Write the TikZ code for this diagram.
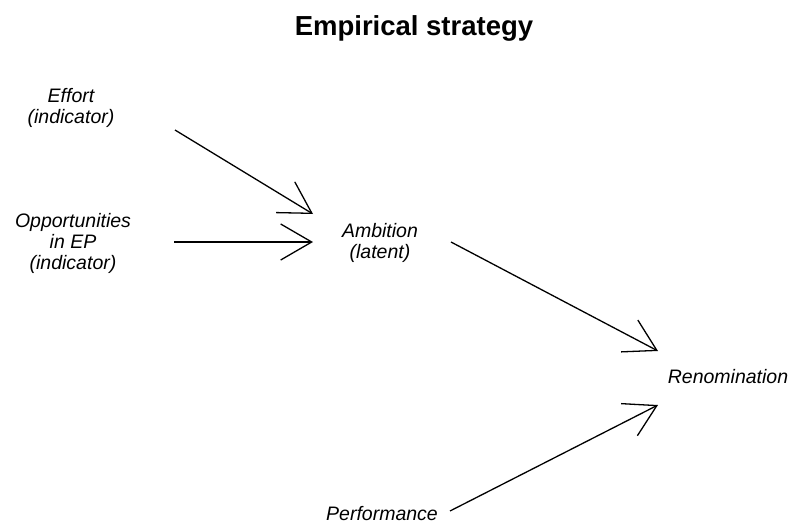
\documentclass[tikz,border=0pt]{standalone}
\usepackage{fontspec}
\setmainfont{Liberation Sans}
\usetikzlibrary{arrows.meta}
\tikzset{
  var/.style={align=center, inner sep=0pt, font=\itshape\fontsize{19.5}{21}\selectfont},
  path/.style={line width=1.3pt, -{Straight Barb[length=31pt, width=36pt, line width=1.3pt]}}
}
\begin{document}
\begin{tikzpicture}[x=1pt, y=-1pt]
\useasboundingbox (0,0) rectangle (788,525);
\node (title) [anchor=base, font=\bfseries\fontsize{27.5}{30}\selectfont] at (414,35) {Empirical strategy};
\node (effort) [var] at (71,108) {Effort\\(indicator)};
\node (opp) [var] at (73,243) {Opportunities\\in EP\\(indicator)};
\node (ambition) [var] at (380,243) {Ambition\\(latent)};
\node (renom) [var, anchor=base] at (728,383) {Renomination};
\node (perf) [var, anchor=base] at (382,520) {Performance};
% arrow ends
\coordinate (effort-out) at (175,130);
\coordinate (opp-out) at (174,242);
\coordinate (amb-in1) at (313,214);
\coordinate (amb-in2) at (313,242);
\coordinate (amb-out) at (451,242);
\coordinate (perf-out) at (450,511);
\coordinate (renom-in1) at (658,351);
\coordinate (renom-in2) at (658,405);
\draw [path] (effort-out) -- (amb-in1);
\draw [path] (opp-out) -- (amb-in2);
\draw [path] (amb-out) -- (renom-in1);
\draw [path] (perf-out) -- (renom-in2);
\end{tikzpicture}
\end{document}
